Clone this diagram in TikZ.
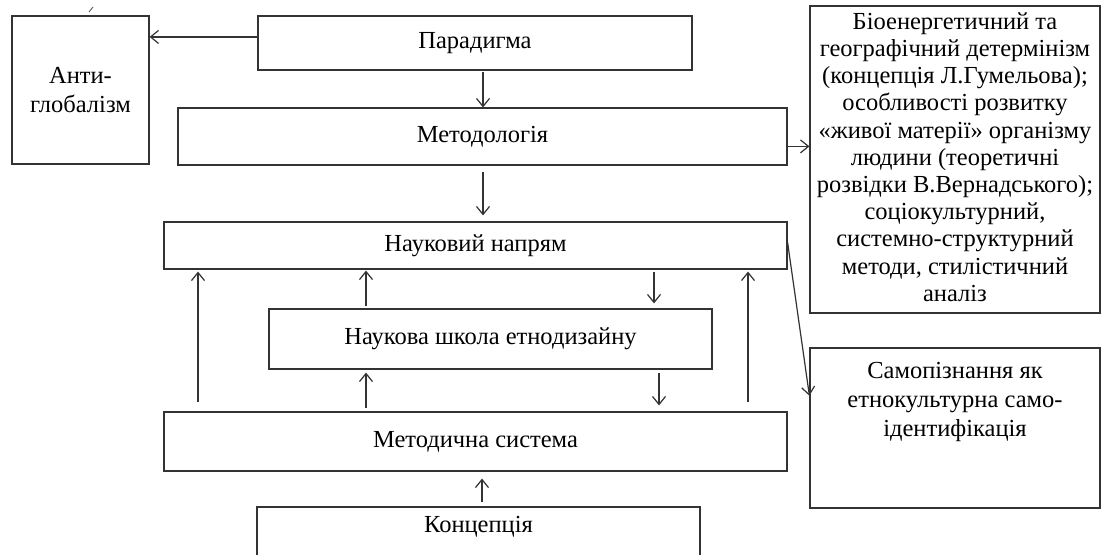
\documentclass[tikz,border=0pt]{standalone}
\usepackage{fontspec}
\setmainfont{Liberation Serif}
\usetikzlibrary{arrows.meta,calc}
\newcommand\diagfont{\fontsize{24.5}{28.7}\selectfont}
\newcommand\rbfont{\fontsize{24.5}{27.2}\selectfont}
\begin{document}
\begin{tikzpicture}[x=1pt,y=-1pt,
  box/.style={draw=black!80, line width=1.2pt, rectangle, inner sep=0pt, align=center, font=\diagfont},
  txt/.style={inner sep=0pt, align=center, font=\diagfont},
  arr/.style={draw=black!80, line width=1.2pt, -{Straight Barb[length=8pt,width=13pt,line width=1.2pt]}}]
\clip (0,0) rectangle (1102,554);
\fill[white] (0,0) rectangle (1102,554);
% stray accent mark
\draw[black!70, line width=0.8pt] (89,12) -- (93,7);
% boxes
\node[box, minimum width=137, minimum height=148] (anti) at (80.5,90) {Анти-\\глобалізм};
\node[box, minimum width=434, minimum height=54] (par) at (475,43) {Парадигма};
\node[box, minimum width=609, minimum height=57] (meth) at (482.5,136.5) {Методологія};
\node[box, minimum width=290, minimum height=307] (rb1) at (955,159.5) {};
\node[txt, font=\rbfont] (rb1t) at (955,157) {Біоенергетичний та\\географічний детермінізм\\(концепція Л.Гумельова);\\особливості розвитку\\«живої матерії» організму\\людини (теоретичні\\розвідки В.Вернадського);\\соціокультурний,\\системно-структурний\\методи, стилістичний\\аналіз};
\node[box, minimum width=623, minimum height=47] (nn) at (475.5,245.5) {Науковий напрям};
\node[box, minimum width=443, minimum height=60] (shk) at (490.5,339) {Наукова школа етнодизайну};
\node[box, minimum width=623, minimum height=59] (met) at (475.5,441.5) {Методична система};
\node[box, minimum width=290, minimum height=160] (rb2) at (955,428) {};
\node[txt] (rb2t) at (955,402) {Самопізнання як\\етнокультурна само-\\ідентифікація};
\node[box, minimum width=443, minimum height=60] (conc) at (478.5,537) {};
\node[txt] (conct) at (478.5,527) {Концепція};
% helper coordinates
\coordinate (pa) at ($(par.north west)!0.39!(par.south west)$);
\coordinate (ma) at ($(meth.north east)!0.67!(meth.south east)$);
\coordinate (ra) at ($(rb2.north west)!0.3!(rb2.south west)$);
\coordinate (x1) at (483,0);
\coordinate (x2) at (198,0);
\coordinate (x3) at (366,0);
\coordinate (x4) at (654,0);
\coordinate (x5) at (659,0);
\coordinate (x6) at (748,0);
\coordinate (x7) at (482,0);
% connectors
\draw[arr] (pa) -- (pa -| anti.east);
\draw[arr] (ma) -- (ma -| rb1.west);
\draw[arr, shorten <=1pt] (x1 |- par.south) -- (x1 |- meth.north);
\draw[arr, shorten <=6pt, shorten >=6pt] (x1 |- meth.south) -- (x1 |- nn.north);
\draw[arr, shorten <=9pt, shorten >=2pt] (x2 |- met.north) -- (x2 |- nn.south);
\draw[arr, shorten <=2pt, shorten >=1pt] (x3 |- shk.north) -- (x3 |- nn.south);
\draw[arr, shorten <=3pt, shorten >=3pt] (x3 |- met.north) -- (x3 |- shk.south);
\draw[arr, shorten <=2pt, shorten >=5pt] (x4 |- nn.south) -- (x4 |- shk.north);
\draw[arr, shorten <=3pt, shorten >=6pt] (x5 |- shk.south) -- (x5 |- met.north);
\draw[arr, shorten <=9pt, shorten >=2pt] (x6 |- met.north) -- (x6 |- nn.south);
\draw[arr, shorten <=4pt, shorten >=7pt] (x7 |- conc.north) -- (x7 |- met.south);
\draw[arr] ($(nn.east)+(0,-3)$) -- (ra);
\end{tikzpicture}
\end{document}
